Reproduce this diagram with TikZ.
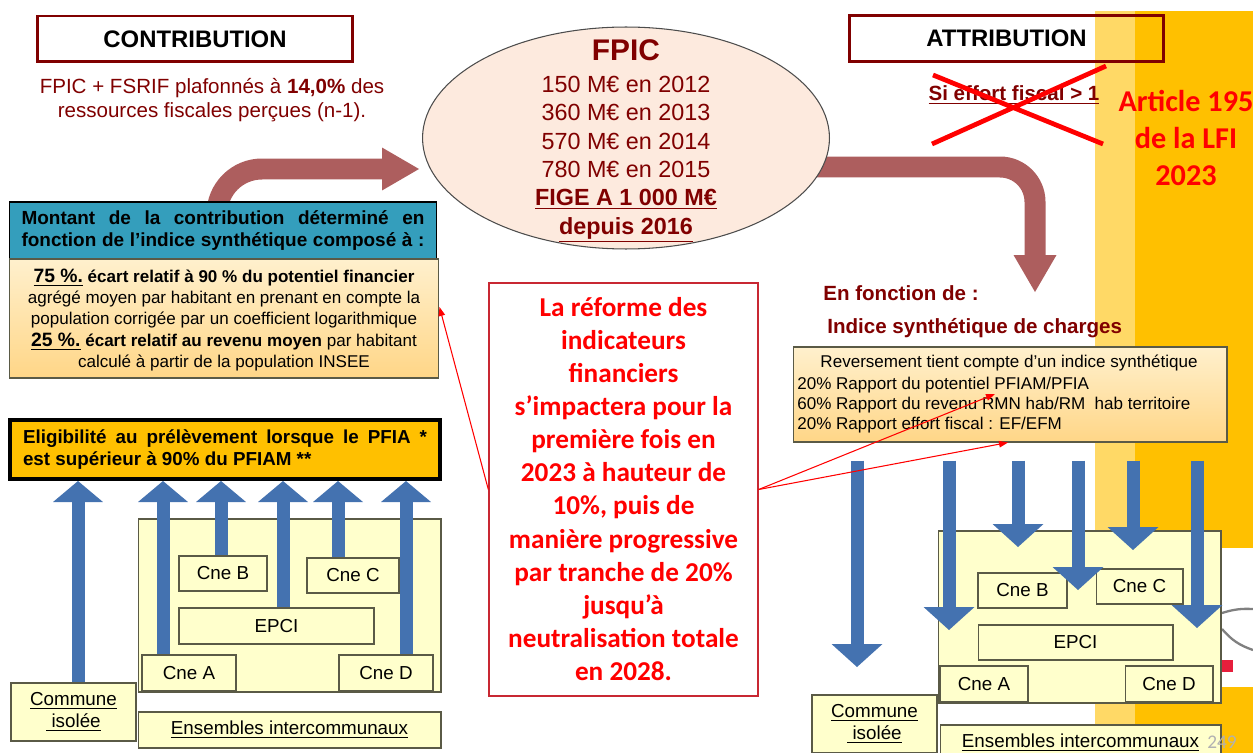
\documentclass[tikz,border=0pt]{standalone}
\usepackage{fontspec}
\setmainfont{Liberation Sans}
\newfontfamily\calibri{Carlito}
\usetikzlibrary{arrows.meta,positioning,shapes.geometric,calc}
\definecolor{fpicred}{RGB}{128,0,0}
\definecolor{brownarr}{RGB}{173,94,94}
\definecolor{tealbox}{RGB}{52,158,188}
\definecolor{ensyellow}{RGB}{255,255,204}
\definecolor{gold}{RGB}{255,192,0}
\definecolor{lightgold}{RGB}{255,217,102}
\definecolor{peach}{RGB}{253,234,222}
\definecolor{flowblue}{RGB}{68,114,176}
\definecolor{boxgray}{RGB}{90,90,70}
\definecolor{critlight}{RGB}{255,240,205}
\definecolor{critdark}{RGB}{255,214,135}
\definecolor{reformered}{RGB}{200,40,50}
\definecolor{logored}{RGB}{230,30,60}
\tikzset{
  % title boxes
  titlebox/.style={
    draw=fpicred,
    line width=1.7pt,
    minimum width=6.3cm,
    minimum height=0.92cm,
    font=\fontsize{13.6}{16}\selectfont\bfseries
  },
  % commune boxes
  cnebox/.style={
    draw=boxgray,
    fill=ensyellow,
    line width=0.6pt,
    minimum height=0.7cm,
    font=\fontsize{10.7}{12.5}\selectfont
  },
  % criteria boxes
  critbox/.style={
    draw=boxgray,
    line width=0.6pt,
    top color=critlight,
    bottom color=critdark
  },
  % arrows
  bigarr/.style={brownarr, line width=0.42cm, -{Triangle[length=0.74cm,width=0.86cm,line width=0pt]}},
  uparr/.style={flowblue, line width=0.26cm, -{Triangle[length=0.42cm,width=1.0cm,line width=0pt]}},
  downarr/.style={flowblue, line width=0.26cm, -{Triangle[length=0.46cm,width=1.02cm,line width=0pt]}},
  redarr/.style={red, line width=0.6pt, -{Triangle[length=0.18cm,width=0.13cm]}},
  boldtxt/.style={text=fpicred, font=\fontsize{11.7}{13.7}\selectfont\bfseries},
}

\begin{document}
\begin{tikzpicture}[x=0.02cm,y=-0.02cm]
\useasboundingbox (0,0) rectangle (1253,753);
\clip (0,0) rectangle (1253,753);

% Background band
\fill[lightgold] (1095,11) rectangle (1253,753);
\fill[gold] (1135,11) rectangle (1253,753);
\fill[white] (1222,548) rectangle (1253,687);
\draw[gray, line width=1.3pt] (1222,613) to[bend left=10] (1253,609);
\draw[gray, line width=1.3pt] (1222,629) to[bend right=15] (1253,650);
\fill[logored] (1222,660) rectangle (1233,672);

% FPIC flow
\coordinate (montTop) at (217,240);
\coordinate (fpicIn) at (419,169);
\coordinate (fpicOut) at (800,167);
\coordinate (attrTip) at (1035,292);
\draw[bigarr, rounded corners=0.9cm] (montTop) |- (fpicIn);
\draw[bigarr, rounded corners=0.7cm] (fpicOut) -| (attrTip);

\node[ellipse, draw=gray!60!black, fill=peach, line width=0.6pt,
  minimum width=8.14cm, minimum height=4.44cm] (fpic) at (626,138) {};
\node[text=fpicred, align=center, font=\fontsize{13.3}{16.2}\selectfont] (fpicT) at (626,141)
  {{\fontsize{17}{17}\selectfont\bfseries FPIC}\\[2pt]
   150 M€ en 2012\\360 M€ en 2013\\570 M€ en 2014\\780 M€ en 2015\\
   \textbf{\underline{FIGE A 1 000 M€}}\\\textbf{\underline{depuis 2016}}};

% Titles
\node[titlebox] (contrib) at (195,39) {CONTRIBUTION};
\node[titlebox] (attrib) at (1006.5,38.5) {ATTRIBUTION};

% Contribution side
\node[text=fpicred, align=center, font=\fontsize{11.7}{13.7}\selectfont] (plafond) at (212,100)
  {FPIC + FSRIF plafonnés à \textbf{14,0\%} des\\ressources fiscales perçues (n-1).};

\node[draw=black, fill=tealbox, line width=0.6pt, minimum width=8.56cm, minimum height=1.14cm,
  inner sep=0pt, align=center, font=\fontsize{10.8}{12.5}\selectfont\bfseries] (mont) at (223,230.5)
  {\makebox[8.06cm][s]{Montant de la contribution déterminé en}\\
   \makebox[8.06cm][s]{fonction de l’indice synthétique composé à :}};

\node[critbox, minimum width=8.6cm, minimum height=2.38cm] (crit) at (224,318.5) {};
\node[align=center, font=\fontsize{9.7}{12.1}\selectfont] (critT) at (224,320)
  {{\fontsize{11}{12}\selectfont\bfseries\underline{75 \%.}} \textbf{écart relatif à 90 \% du potentiel financier}\\
   agrégé moyen par habitant en prenant en compte la\\
   population corrigée par un coefficient logarithmique\\
   {\fontsize{11}{12}\selectfont\bfseries\underline{25 \%.}} \textbf{écart relatif au revenu moyen} par habitant\\
   calculé à partir de la population INSEE};

\node[draw=black, line width=2.3pt, fill=gold, minimum width=8.6cm, minimum height=1.18cm,
  inner sep=0pt, align=left, font=\fontsize{10.7}{13}\selectfont\bfseries] (elig) at (225,449.5)
  {\makebox[8.08cm][s]{Eligibilité au prélèvement lorsque le PFIA *}\\
   est supérieur à 90\% du PFIAM **};

% Left group
\node[cnebox, minimum width=6.06cm, minimum height=3.46cm] (ensL) at (289.5,605.5) {};
\node[cnebox, minimum width=1.76cm] (cneBL) at (223,573.5) {Cne B};
\node[cnebox, minimum width=1.84cm] (cneCL) at (353,575.5) {Cne C};
\node[cnebox, minimum width=3.9cm, minimum height=0.72cm] (epciL) at (276.5,626) {EPCI};
\node[cnebox, minimum width=1.88cm, minimum height=0.72cm] (cneAL) at (189,673) {Cne A};
\node[cnebox, minimum width=1.88cm, minimum height=0.72cm] (cneDL) at (386,673) {Cne D};
\node[cnebox, minimum width=2.5cm, minimum height=1.16cm, align=center] (isoL) at (73.5,712)
  {\underline{Commune}\\\underline{\ isolée}};
\node[cnebox, minimum width=6.06cm, minimum height=0.72cm] (interL) at (289.5,730)
  {\underline{Ensembles intercommunaux}};

\foreach \x/\src in {78/isoL,163/cneAL,221/cneBL,283/epciL,338/cneCL,406/cneDL}
  \draw[uparr] (\x,0 |- \src.north) -- (\x,0 |- elig.south);

% Reform box
\node[draw=reformered, fill=white, line width=0.8pt, minimum width=5.38cm, minimum height=8.26cm]
  (reforme) at (623.5,489.5) {};
\node[text=red, align=center, font=\calibri\bfseries\fontsize{15.5}{18.8}\selectfont] (reformeT) at (623.5,489)
  {La réforme des\\indicateurs\\financiers\\s’impactera pour la\\première fois en\\2023 à hauteur de\\
   10\%, puis de\\manière progressive\\par tranche de 20\%\\jusqu’à\\neutralisation totale\\en 2028.};

% Attribution side
\node[boldtxt] (effort) at (1014,95) {\underline{Si effort fiscal > 1}};
\draw[red, line width=2.7pt] (933,75) -- (1103,144) (932,144) -- (1106,66);
\node[text=red, align=center, font=\calibri\bfseries\fontsize{17.2}{21}\selectfont] (lfi) at (1186,138)
  {Article 195\\de la LFI\\2023};

\node[boldtxt, anchor=west, inner sep=0pt] (enfct) at (823,293) {En fonction de :};
\node[boldtxt, anchor=west, inner sep=0pt] (indice) at (827,328) {Indice synthétique de charges};

\node[critbox, minimum width=8.68cm, minimum height=1.9cm] (rev) at (1010,394.5) {};
\node[font=\fontsize{9.7}{11.4}\selectfont] (revTitle) at (1009,363) {Reversement tient compte d’un indice synthétique};
\node[anchor=west, align=left, inner sep=0pt, font=\fontsize{9.7}{11.4}\selectfont] (revList) at (797,405)
  {20\% Rapport du potentiel PFIAM/PFIA\\
   60\% Rapport du revenu RMN hab/RM\ \ hab territoire\\
   20\% Rapport effort fiscal : EF/EFM};

% Right group
\node[cnebox, minimum width=5.66cm, minimum height=3.44cm] (ensR) at (1079.5,617) {};
\node[cnebox, minimum width=1.78cm] (cneBR) at (1022.5,590.5) {Cne B};
\node[cnebox, minimum width=1.74cm] (cneCR) at (1139.5,586.5) {Cne C};
\node[cnebox, minimum width=3.9cm] (epciR) at (1075.5,642.5) {EPCI};
\node[cnebox, minimum width=1.76cm, minimum height=0.72cm] (cneAR) at (984,684) {Cne A};
\node[cnebox, minimum width=1.76cm, minimum height=0.72cm] (cneDR) at (1169,684) {Cne D};
\node[cnebox, minimum width=2.5cm, minimum height=1.16cm, align=center] (isoR) at (874.5,724)
  {\underline{Commune}\\\underline{\ isolée}};
\node[cnebox, minimum width=5.62cm, minimum height=0.72cm] (interR) at (1080.5,743)
  {\underline{Ensembles intercommunaux}};

\coordinate (dTop) at ($(rev.south)+(0,18)$);
\foreach \x/\t in {857/667,949/630,1018/547,1078/590,1133/550,1197/628}
  \draw[downarr] (\x,0 |- dTop) -- (\x,\t);

% Red links
\coordinate (critTip) at (crit.east |- 0,307);
\coordinate (pfiaTip) at (995,394);
\coordinate (efTip) at (1008,0 |- rev.south);
\draw[redarr] (reforme.west) -- (critTip);
\draw[redarr] (reforme.east) -- (pfiaTip);
\draw[redarr] (reforme.east) -- (efTip);

% Page number
\node[anchor=base, inner sep=0pt, text=gray!60, font=\calibri\fontsize{11}{11}\selectfont] (pnum) at (1222,748) {249};
\end{tikzpicture}
\end{document}
